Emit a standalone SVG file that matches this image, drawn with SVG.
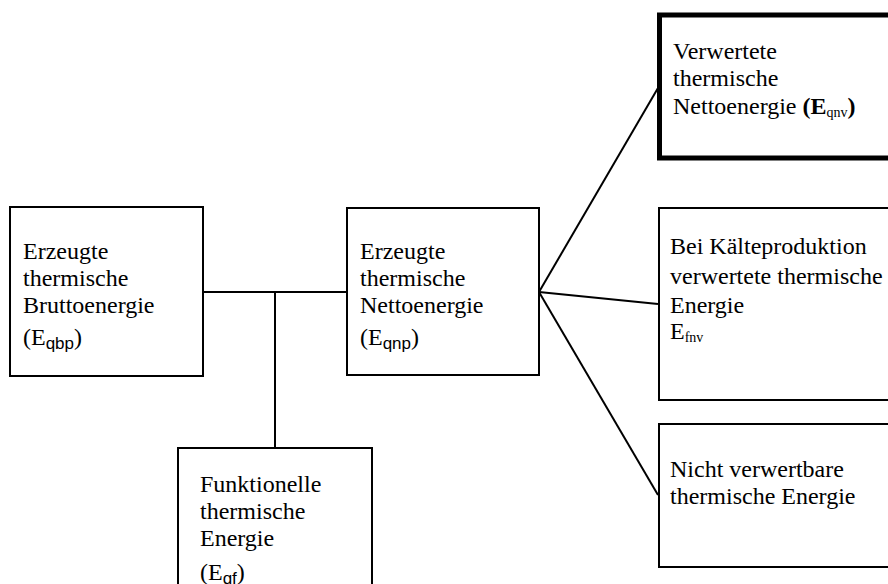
<svg xmlns="http://www.w3.org/2000/svg" width="888" height="584" viewBox="0 0 888 584">
<style>
.box{fill:#fff;stroke:#000;stroke-width:2}
.thick{fill:#fff;stroke:#000;stroke-width:5}
.ln{stroke:#000;stroke-width:2;fill:none}
text{font-family:"Liberation Serif","Times New Roman",serif;font-size:24px;fill:#000}
.sub{font-family:"Liberation Sans",Arial,sans-serif;font-size:17px}
.subs{font-size:14px}
</style>
<rect width="888" height="584" fill="#fff"/>
<g id="connectors">
<line class="ln" x1="203" y1="292" x2="347" y2="292"/>
<line class="ln" x1="275" y1="292" x2="275" y2="448"/>
<line class="ln" x1="539" y1="292" x2="658" y2="88"/>
<line class="ln" x1="539" y1="292" x2="658" y2="304"/>
<line class="ln" x1="539" y1="292" x2="658" y2="495"/>
</g>
<g id="brutto">
<rect class="box" x="10" y="207" width="193" height="169"/>
<text x="23" y="259">Erzeugte</text>
<text x="23" y="286">thermische</text>
<text x="23" y="313">Bruttoenergie</text>
<text x="23" y="345">(E<tspan class="sub" dy="4">qbp</tspan><tspan dy="-4">)</tspan></text>
</g>
<g id="netto">
<rect class="box" x="347" y="208" width="192" height="167"/>
<text x="360" y="259">Erzeugte</text>
<text x="360" y="286">thermische</text>
<text x="360" y="313">Nettoenergie</text>
<text x="360" y="345">(E<tspan class="sub" dy="4">qnp</tspan><tspan dy="-4">)</tspan></text>
</g>
<g id="funktionell">
<rect class="box" x="178" y="448" width="194" height="150"/>
<text x="200" y="492">Funktionelle</text>
<text x="200" y="519">thermische</text>
<text x="200" y="546">Energie</text>
<text x="200" y="580">(E<tspan class="sub" dy="4">qf</tspan><tspan dy="-4">)</tspan></text>
</g>
<g id="verwertet">
<rect class="thick" x="659.5" y="15" width="240" height="143"/>
<text x="673" y="59">Verwertete</text>
<text x="673" y="86">thermische</text>
<text x="673" y="114">Nettoenergie <tspan font-weight="bold">(E</tspan><tspan class="subs" dy="3">qnv</tspan><tspan font-weight="bold" dy="-3">)</tspan></text>
</g>
<g id="kaelte">
<rect class="box" x="659" y="208" width="240" height="192"/>
<text x="670" y="254">Bei Kälteproduktion</text>
<text x="670" y="284">verwertete thermische</text>
<text x="670" y="313">Energie</text>
<text x="670" y="339">E<tspan class="subs" dy="3">fnv</tspan></text>
</g>
<g id="nicht">
<rect class="box" x="659" y="424" width="240" height="143"/>
<text x="670" y="477">Nicht verwertbare</text>
<text x="670" y="504">thermische Energie</text>
</g>
</svg>
